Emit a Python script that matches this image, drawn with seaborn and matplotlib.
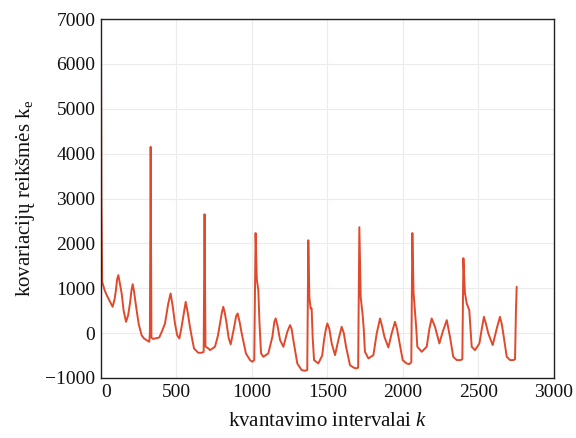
import matplotlib
matplotlib.use("Agg")
import matplotlib.pyplot as plt
import seaborn as sns
import pandas as pd

# Covariance values k_e against quantisation interval k
k = [0, 3, 8, 11, 25, 38, 60, 77, 90, 99, 107, 115, 123, 137, 150, 166, 180, 192,
     202, 210, 218, 236, 250, 269, 285, 302, 320, 324, 329, 334, 345, 358, 386, 405,
     424, 445, 461, 475, 490, 505, 519, 532, 545, 561, 575, 589, 602, 616, 644, 666,
     680, 686, 692, 711, 722, 755, 775, 788, 800, 810, 820, 832, 845, 859, 880, 895,
     905, 918, 932, 960, 987, 1002, 1015, 1024, 1032, 1042, 1050, 1060, 1075, 1108,
     1135, 1148, 1157, 1170, 1186, 1208, 1234, 1252, 1262, 1274, 1300, 1329, 1351,
     1366, 1373, 1380, 1388, 1395, 1402, 1411, 1439, 1465, 1477, 1490, 1499, 1512,
     1528, 1550, 1572, 1594, 1608, 1623, 1649, 1671, 1689, 1703, 1711, 1720, 1733,
     1740, 1748, 1771, 1804, 1826, 1848, 1862, 1877, 1903, 1925, 1947, 1960, 1974,
     1998, 2024, 2042, 2055, 2062, 2070, 2080, 2088, 2095, 2124, 2157, 2175, 2190,
     2212, 2241, 2263, 2290, 2311, 2333, 2356, 2382, 2393, 2400, 2410, 2422, 2439,
     2447, 2455, 2477, 2506, 2522, 2536, 2550, 2565, 2594, 2621, 2642, 2654, 2664,
     2687, 2709, 2731, 2742, 2748, 2753]
ke = [6700, 3000, 1150, 1107, 950, 846, 700, 587, 750, 958, 1200, 1292, 1150, 884,
      500, 252, 400, 661, 950, 1091, 950, 512, 200, -45, -120, -156, -193, 0, 4150,
      -100, -130, -119, -97, 50, 216, 650, 884, 600, 216, -50, -119, 100, 363, 697,
      450, 141, -100, -341, -438, -438, -420, 2650, -300, -341, -379, -304, -50, 216,
      450, 587, 450, 216, -100, -250, 100, 380, 438, 250, -7, -453, -601, -638, -600,
      2230, 1200, 958, 200, -450, -527, -453, -82, 250, 327, 150, -156, -304, 30, 178,
      100, -156, -676, -824, -839, -820, 2070, 800, 550, 550, -100, -601, -676, -500,
      -156, 100, 216, 100, -230, -490, -156, 141, 0, -304, -713, -765, -787, -770,
      2360, 800, 401, 100, -416, -564, -490, -7, 327, 150, -82, -319, -7, 252, 100,
      -156, -601, -676, -690, -650, 2230, 900, 438, 100, -304, -416, -304, 100, 327,
      141, -230, 30, 290, -82, -527, -601, -601, -580, 1670, 900, 661, 512, 100, -304,
      -379, -230, 100, 363, 200, -7, -267, 104, 363, 200, -7, -527, -601, -601, -580,
      500, 1032]

x_ticks = [0, 500, 1000, 1500, 2000, 2500, 3000]
y_ticks = [-1000, 0, 1000, 2000, 3000, 4000, 5000, 6000, 7000]

df = pd.DataFrame({"k": k, "ke": ke})

sns.set_theme(style="whitegrid")
plt.rcParams["font.family"] = ["Liberation Serif", "DejaVu Serif"]
plt.rcParams["mathtext.fontset"] = "custom"
plt.rcParams["mathtext.rm"] = "Liberation Serif"
plt.rcParams["mathtext.it"] = "Liberation Serif:italic"

fig = plt.figure(figsize=(5.76, 4.38), dpi=100)
ax = fig.add_axes([0.1753, 0.137, 0.7865, 0.8196])

sns.lineplot(data=df, x="k", y="ke", sort=False, color="#e0492c", linewidth=1.4,
             ax=ax)

ax.set_xlim(0, 3000)
ax.set_ylim(-1000, 7000)
ax.set_xticks(x_ticks)
ax.set_yticks(y_ticks)
ax.set_xticklabels([str(v) for v in x_ticks])
ax.set_yticklabels([str(v).replace("-", "\u2212") for v in y_ticks])
ax.tick_params(axis="both", length=0, pad=4, labelsize=14, colors="#111111")
ax.get_xticklabels()[0].set_horizontalalignment("left")
ax.grid(True, color="#ececec", linewidth=0.8)
for s in ax.spines.values():
    s.set_visible(True)
    s.set_color("#222222")
    s.set_linewidth(1.0)

ax.set_xlabel(r"kvantavimo intervalai $\mathit{k}$", fontsize=15, labelpad=8,
              color="#111111")
ax.set_ylabel(r"kovariacijų reikšmės k$_{\mathrm{e}}$", fontsize=15, labelpad=6,
              color="#111111")

fig.savefig("out.png", dpi=100, facecolor="white")
